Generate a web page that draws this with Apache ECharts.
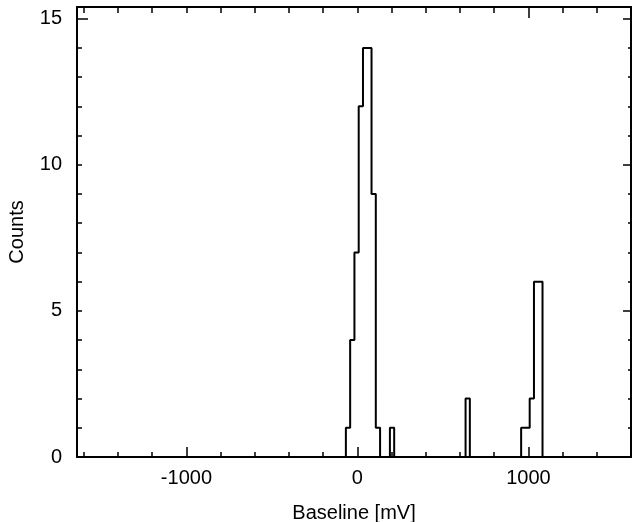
<!DOCTYPE html>
<html>
<head>
<meta charset="utf-8">
<script src="https://cdn.jsdelivr.net/npm/echarts@6/dist/echarts.min.js"></script>
<style>
  html, body { margin: 0; padding: 0; background: #fff; }
  #chart { width: 636px; height: 522px; }
</style>
</head>
<body>
<div id="chart"></div>
<script>
// histogram bins (left edge in mV, 25 mV wide)
const binWidth = 25;
const binStart = [-67.5, -42.5, -17.5, 7.5, 32.5, 57.5, 82.5, 107.5, 190, 632.5, 957.5, 982.5, 1007.5, 1032.5, 1057.5];
const counts = [1, 4, 7, 12, 14, 14, 9, 1, 1, 2, 1, 1, 2, 6, 6];

const xMajor = [-1000, 0, 1000];
const xMinor = [-1600, -1400, -1200, -1000, -800, -600, -400, -200, 0, 200, 400, 600, 800, 1000, 1200, 1400, 1600];
const yMajor = [0, 5, 10, 15];
const yMinor = [0, 1, 2, 3, 4, 5, 6, 7, 8, 9, 10, 11, 12, 13, 14, 15];

const X_MIN = -1640, X_MAX = 1600;
const Y_MIN = 0, Y_MAX = 15.4;
const font = "'Liberation Sans', Arial, sans-serif";
const fs = 20;

// step outline of the histogram
const outline = [];
let prevRight = null;
binStart.forEach((left, i) => {
  if (prevRight === null) {
    outline.push([left, 0]);
  } else if (left > prevRight + 0.01) {
    outline.push([prevRight, 0], [left, 0]);
  }
  outline.push([left, counts[i]], [left + binWidth, counts[i]]);
  prevRight = left + binWidth;
});
outline.push([prevRight, 0]);

const line = { show: true, onZero: false, lineStyle: { color: "#000", width: 2 } };
const noLine = { show: false, onZero: false };

function xAx(position, ticks, len, withLine, labels) {
  return {
    type: "value", position, min: X_MIN, max: X_MAX,
    axisLine: withLine ? line : noLine,
    axisTick: { show: true, inside: true, length: len, customValues: ticks, lineStyle: { color: "#000", width: 1.5 } },
    axisLabel: labels
      ? { show: true, customValues: xMajor, color: "#000", fontSize: fs, fontFamily: font, margin: 11, formatter: v => String(v) }
      : { show: false },
    splitLine: { show: false },
  };
}
function yAx(position, ticks, len, withLine, labels) {
  return {
    type: "value", position, min: Y_MIN, max: Y_MAX,
    axisLine: withLine ? line : noLine,
    axisTick: { show: true, inside: true, length: len, customValues: ticks, lineStyle: { color: "#000", width: 1.5 } },
    axisLabel: labels
      ? { show: true, customValues: yMajor, color: "#000", fontSize: fs, fontFamily: font, margin: 15, formatter: v => String(v) }
      : { show: false },
    splitLine: { show: false },
  };
}

const xBottom = xAx("bottom", xMajor, 10, true, true);
xBottom.name = "Baseline [mV]";
xBottom.nameLocation = "middle";
xBottom.nameGap = 46;
xBottom.nameTextStyle = { color: "#000", fontSize: fs, fontFamily: font };

const yLeft = yAx("left", [15], 11, true, true);
yLeft.name = "Counts";
yLeft.nameLocation = "middle";
yLeft.nameGap = 50;
yLeft.nameTextStyle = { color: "#000", fontSize: fs, fontFamily: font };

const option = {
  animation: false,
  backgroundColor: "#fff",
  grid: { left: 77, right: 5, top: 7, bottom: 65, containLabel: false, outerBoundsMode: "none" },
  xAxis: [
    xBottom,
    xAx("bottom", xMinor, 5, false, false),
    xAx("top", [1000], 11, true, false),
    xAx("top", xMinor, 6, false, false),
  ],
  yAxis: [
    yLeft,
    yAx("left", yMinor, 5, false, false),
    yAx("right", [5, 10, 15], 8, true, false),
    yAx("right", yMinor, 3, false, false),
  ],
  series: [
    {
      type: "line",
      xAxisIndex: 0,
      yAxisIndex: 0,
      data: outline,
      symbol: "none",
      lineStyle: { color: "#000", width: 2 },
    },
  ],
};

const myChart = echarts.init(document.getElementById("chart"));
myChart.setOption(option);
</script>
</body>
</html>
